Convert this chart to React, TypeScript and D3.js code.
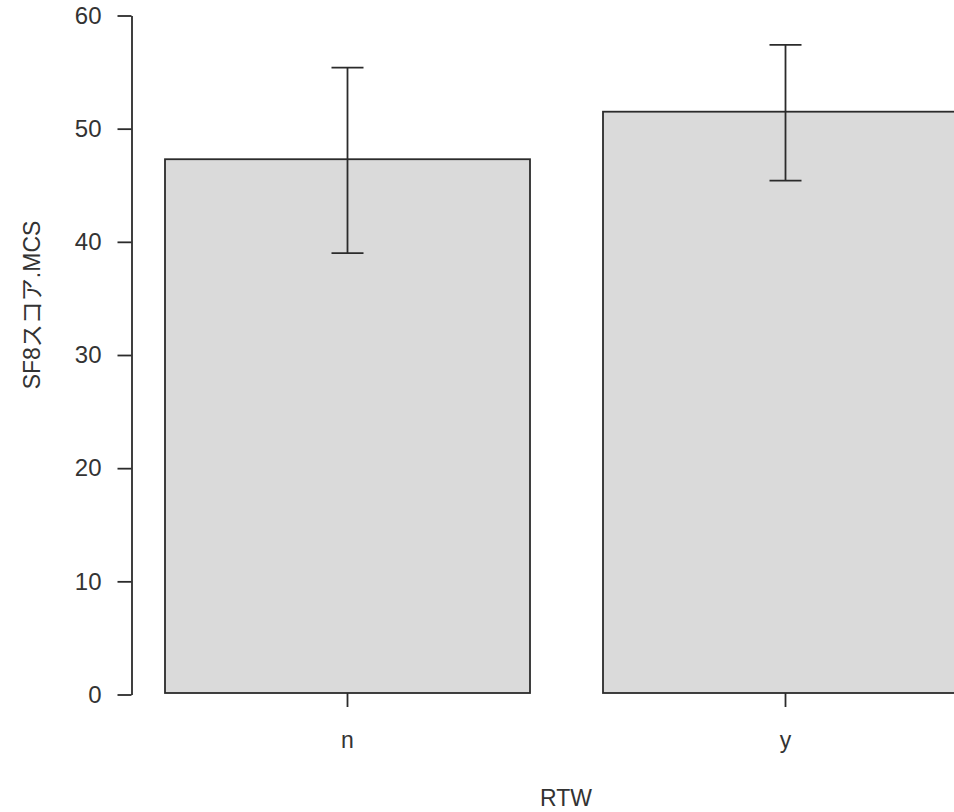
import React, { useEffect, useRef } from "react";
import * as d3 from "d3";

// values
const groups = ["n", "y"];
const means = [47.3, 51.5];
const upper = [55.4, 57.4];
const lower = [39.0, 45.4];
const yTicks = [0, 10, 20, 30, 40, 50, 60];

const width = 954;
const height = 812;
const font = "'Liberation Sans', Arial, 'Noto Sans CJK JP', sans-serif";
const ink = "#2b2b2b";

export default function App() {
  const ref = useRef<SVGSVGElement>(null);

  useEffect(() => {
    const svg = d3.select(ref.current);
    svg.selectAll("*").remove();

    const data = groups.map((g, i) => ({ g, mean: means[i], hi: upper[i], lo: lower[i] }));

    const yScale = d3.scaleLinear().domain([0, 60]).range([694.5, 15.5]);
    // R barplot style: space 0.2 between bars
    const xScale = d3.scaleBand().domain(groups).range([128.5, 1004.5]).paddingInner(1 / 6).paddingOuter(1 / 12);

    // bars
    svg.append("g").selectAll("rect").data(data).join("rect")
      .attr("x", d => xScale(d.g)!)
      .attr("y", d => yScale(d.mean))
      .attr("width", xScale.bandwidth())
      .attr("height", d => yScale(0) - yScale(d.mean) - 1.5)
      .attr("fill", "#dadada")
      .attr("stroke", ink)
      .attr("stroke-width", 1.8);

    // error bars
    const err = svg.append("g").attr("stroke", ink).attr("stroke-width", 1.8);
    const cx = (d: any) => xScale(d.g)! + xScale.bandwidth() / 2;
    err.selectAll(".stem").data(data).join("line").attr("class", "stem")
      .attr("x1", cx).attr("x2", cx)
      .attr("y1", d => yScale(d.hi)).attr("y2", d => yScale(d.lo));
    err.selectAll(".cap-hi").data(data).join("line").attr("class", "cap-hi")
      .attr("x1", d => cx(d) - 16).attr("x2", d => cx(d) + 16)
      .attr("y1", d => yScale(d.hi)).attr("y2", d => yScale(d.hi));
    err.selectAll(".cap-lo").data(data).join("line").attr("class", "cap-lo")
      .attr("x1", d => cx(d) - 16).attr("x2", d => cx(d) + 16)
      .attr("y1", d => yScale(d.lo)).attr("y2", d => yScale(d.lo));

    // y axis
    const yAxis = d3.axisLeft(yScale).tickValues(yTicks).tickSize(14).tickSizeOuter(0).tickPadding(16);
    const ya = svg.append("g").attr("transform", "translate(131.5,0)").call(yAxis);
    ya.select(".domain").attr("stroke", ink).attr("stroke-width", 1.8);
    ya.selectAll(".tick line").attr("stroke", ink).attr("stroke-width", 1.8);
    ya.selectAll(".tick text").attr("font-size", 24).attr("font-family", font).attr("fill", "#333");

    // x axis: ticks only, no line
    const xAxis = d3.axisBottom(xScale).tickSize(14).tickSizeOuter(0).tickPadding(25);
    const xa = svg.append("g").attr("transform", "translate(0,693)").call(xAxis);
    xa.select(".domain").remove();
    xa.selectAll(".tick line").attr("stroke", ink).attr("stroke-width", 1.8);
    xa.selectAll(".tick text").attr("font-size", 23).attr("font-family", font).attr("fill", "#333");

    // axis titles
    svg.append("text")
      .attr("x", 566).attr("y", 806)
      .attr("text-anchor", "middle")
      .attr("font-size", 23).attr("font-family", font).attr("fill", "#333")
      .text("RTW");

    svg.append("text")
      .attr("transform", "translate(40,305) rotate(-90)")
      .attr("text-anchor", "middle")
      .attr("font-size", 23).attr("font-family", font).attr("fill", "#333")
      .text("SF8スコア.MCS");
  }, []);

  return (
    <svg ref={ref} width={width} height={height}
      style={{ position: "absolute", left: 0, top: 0, background: "#fff" }} />
  );
}
